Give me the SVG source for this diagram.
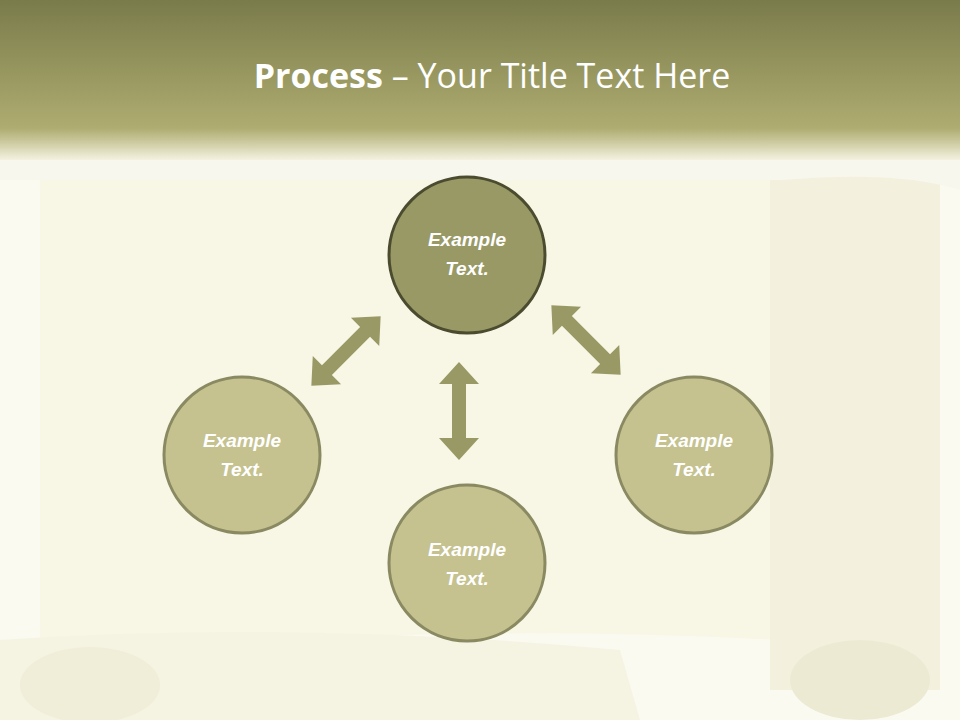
<svg xmlns="http://www.w3.org/2000/svg" width="960" height="720" viewBox="0 0 960 720">
<defs>
<linearGradient id="top" x1="0" y1="0" x2="0" y2="1">
<stop offset="0" stop-color="#7a7b4b"/><stop offset="0.8" stop-color="#aeac70"/><stop offset="0.88" stop-color="#c9c79a"/><stop offset="1" stop-color="#f4f2e0"/>
</linearGradient>
<style>
.n{fill:#c5c28f;stroke:#898962;stroke-width:3}
.t{fill:#999966;stroke:#4b4b30;stroke-width:3}
.lb{font-family:"Liberation Sans",Arial,sans-serif;font-size:19px;font-weight:bold;font-style:italic;fill:#ffffff;text-anchor:middle}
.ar{fill:#999966}
</style>
</defs>
<rect width="960" height="720" fill="#fafaf0"/>
<path d="M40 140 L780 140 L780 640 Q400 620 40 660 Z" fill="#f8f6e4"/>
<rect x="770" y="130" width="170" height="560" fill="#f3f1de"/>
<path d="M0 140 H960 V190 Q900 170 780 180 H0 Z" fill="#f8f7ee"/>
<rect width="960" height="160" fill="url(#top)"/>
<path d="M0 640 Q300 620 620 650 L640 720 H0 Z" fill="#f5f3e2"/>
<ellipse cx="860" cy="680" rx="70" ry="40" fill="#ecead3"/>
<ellipse cx="90" cy="685" rx="70" ry="38" fill="#f0eed8"/>
<text x="492" y="88" text-anchor="middle" font-family="'Open Sans','Liberation Sans',sans-serif" font-size="34" fill="#ffffff"><tspan font-weight="bold">Process</tspan> – Your Title Text Here</text>
<g id="connectors">
<polygon class="ar" transform="translate(459,411)" points="0,-49 20,-27 7,-27 7,27 20,27 0,49 -20,27 -7,27 -7,-27 -20,-27"/>
<polygon class="ar" transform="translate(346,351) rotate(45)" points="0,-49 20,-27 7,-27 7,27 20,27 0,49 -20,27 -7,27 -7,-27 -20,-27"/>
<polygon class="ar" transform="translate(586,340) rotate(-45)" points="0,-49 20,-27 7,-27 7,27 20,27 0,49 -20,27 -7,27 -7,-27 -20,-27"/>
</g>
<g id="node-top"><circle class="t" cx="467" cy="255" r="78"/><text class="lb" x="467" y="246">Example</text><text class="lb" x="467" y="275">Text.</text></g>
<g id="node-left"><circle class="n" cx="242" cy="455" r="78"/><text class="lb" x="242" y="447">Example</text><text class="lb" x="242" y="476">Text.</text></g>
<g id="node-right"><circle class="n" cx="694" cy="455" r="78"/><text class="lb" x="694" y="447">Example</text><text class="lb" x="694" y="476">Text.</text></g>
<g id="node-bottom"><circle class="n" cx="467" cy="563" r="78"/><text class="lb" x="467" y="556">Example</text><text class="lb" x="467" y="585">Text.</text></g>
</svg>
